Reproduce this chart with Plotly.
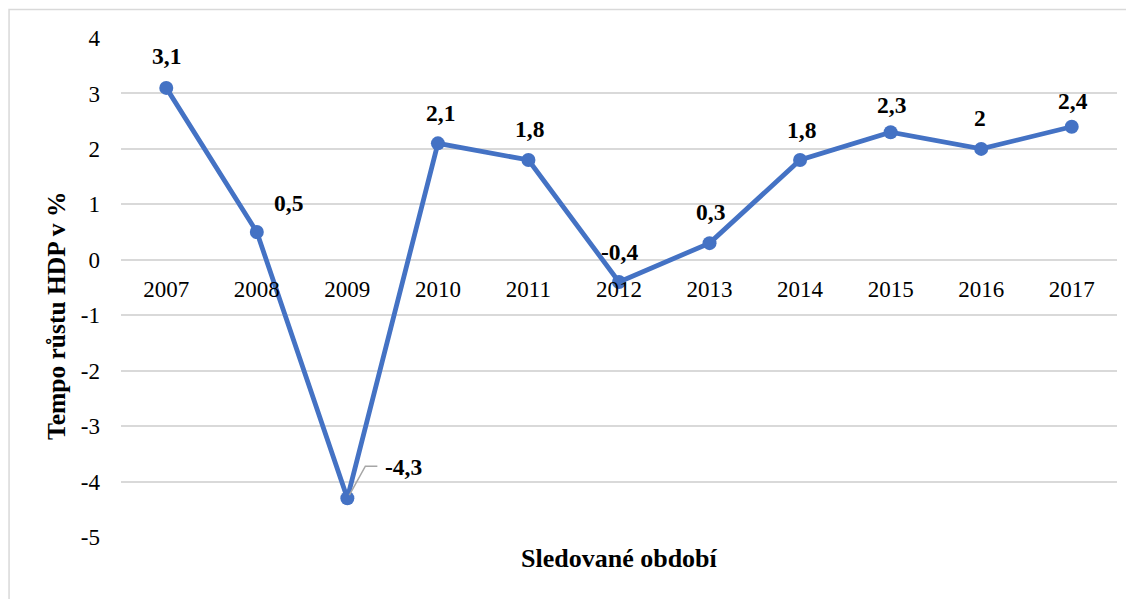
import plotly.graph_objects as go

years = ["2007", "2008", "2009", "2010", "2011", "2012", "2013", "2014", "2015", "2016", "2017"]
growth = [3.1, 0.5, -4.3, 2.1, 1.8, -0.4, 0.3, 1.8, 2.3, 2.0, 2.4]
labels = ["3,1", "0,5", "-4,3", "2,1", "1,8", "-0,4", "0,3", "1,8", "2,3", "2", "2,4"]
y_ticks = [4, 3, 2, 1, 0, -1, -2, -3, -4, -5]
y_ticktext = ["4", "3", "2", "1", "0", "-1", "-2", "-3", "-4", "-5"]
# label offsets in pixels (dx, dy up)
label_dx = [0, 32, 56, 3, 1, 0, 1, 1, 1, -1, 1]
label_dy = [31.5, 29, 31, 30, 30.5, 30, 31.5, 29.5, 27.5, 31, 25.5]

FONT = "Liberation Serif"
BLUE = "#4472C4"
GRID = "#D9D9D9"

fig = go.Figure()
fig.add_trace(go.Scatter(
    x=years, y=growth, mode="lines+markers",
    line=dict(color=BLUE, width=4.8),
    marker=dict(color=BLUE, size=14),
    showlegend=False, hoverinfo="skip",
))

for i, (v, t, dx, dy) in enumerate(zip(growth, labels, label_dx, label_dy)):
    fig.add_annotation(x=i, y=v, xref="x", yref="y", text="<b>" + t + "</b>", showarrow=False,
                       xshift=dx, yshift=dy, xanchor="center", yanchor="middle",
                       font=dict(family=FONT, size=23.5, color="black"))

# leader line for -4,3
fig.add_shape(type="path", xref="x", yref="y", xsizemode="pixel", ysizemode="pixel",
              xanchor=2, yanchor=-4.3,
              path="M 2 3 L 18 32 L 30 32",
              line=dict(color="#A6A6A6", width=1.5))

# outer chart frame
fig.add_shape(type="rect", xref="paper", yref="paper",
              x0=-0.1124, x1=1.03, y0=-0.15, y1=1.057,
              line=dict(color=GRID, width=1.5), fillcolor="rgba(0,0,0,0)", layer="below")

fig.update_layout(
    width=1126, height=591,
    margin=dict(l=113, r=17, t=30, b=62),
    paper_bgcolor="white", plot_bgcolor="white",
    font=dict(family=FONT, color="#000000"),
    xaxis=dict(
        type="category", range=[-0.5, 10.5],
        anchor="free", position=5/9,
        showgrid=False, showline=False, zeroline=False,
        tickfont=dict(family=FONT, size=23, color="#000000"),
        ticklabelstandoff=13,
    ),
    yaxis=dict(
        range=[-5, 4], tickvals=y_ticks, ticktext=y_ticktext,
        showgrid=True, gridcolor=GRID, gridwidth=1.5,
        zeroline=True, zerolinecolor=GRID, zerolinewidth=1.5,
        showline=False,
        tickfont=dict(family=FONT, size=23, color="#000000"),
        ticklabelstandoff=20,
    ),
)

# axis titles
fig.add_annotation(x=(56 - 121) / 996, y=(537 - 316) / 499, xref="paper", yref="paper",
                   xanchor="center", yanchor="middle", textangle=-90,
                   text="<b>Tempo růstu HDP v %</b>", showarrow=False,
                   font=dict(family=FONT, size=25.5, color="#000000"))
fig.add_annotation(x=0.5, y=(537 - 558) / 499, xref="paper", yref="paper",
                   yanchor="middle", xanchor="center",
                   text="<b>Sledované období</b>", showarrow=False,
                   font=dict(family=FONT, size=26, color="#000000"))

fig.write_html("out.html")
